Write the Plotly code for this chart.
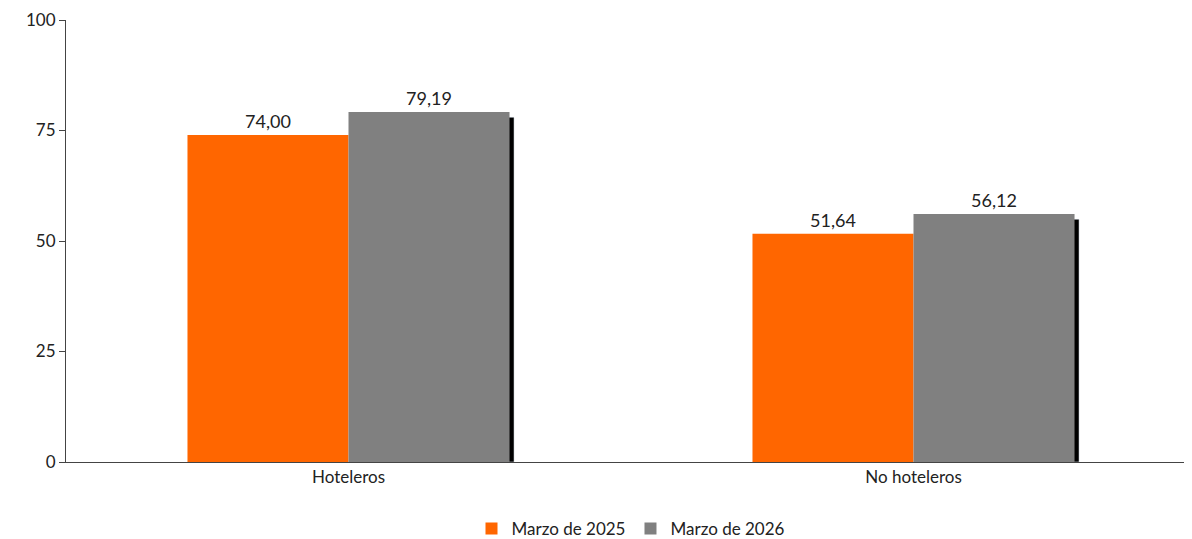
import plotly.graph_objects as go

categories = ["Hoteleros", "No hoteleros"]
s2025 = [74.00, 51.64]
s2026 = [79.19, 56.12]
labels2025 = ["74,00", "51,64"]
labels2026 = ["79,19", "56,12"]

w = 0.285
fig = go.Figure()
fig.add_bar(x=categories, y=[v - 1.2 for v in s2026], width=w, offset=0.008,
            marker_color="black", showlegend=False, hoverinfo="skip")
fig.add_bar(x=categories, y=s2025, width=w, offset=-w, name="Marzo de 2025",
            marker_color="#FF6600", marker_line_width=0,
            text=labels2025, textposition="outside", cliponaxis=False,
            textfont=dict(size=18, color="#222"))
fig.add_bar(x=categories, y=s2026, width=w, offset=0, name="Marzo de 2026",
            marker_color="#808080", marker_line_width=0,
            text=labels2026, textposition="outside", cliponaxis=False,
            textfont=dict(size=18, color="#222"))

fig.update_layout(
    barmode="overlay", width=1192, height=539,
    plot_bgcolor="white", paper_bgcolor="white",
    font=dict(family="Lato, DejaVu Sans", size=17, color="#222"),
    margin=dict(l=58, r=4, t=12, b=85),
    legend=dict(orientation="h", x=0.5, xanchor="center", yref="container",
                y=0.0, yanchor="bottom", font=dict(size=17), itemwidth=30,
                tracegroupgap=0),
    xaxis=dict(showline=True, linecolor="#444", ticks="", showgrid=False,
               automargin=False),
    yaxis=dict(range=[0, 100], tickvals=[0, 25, 50, 75, 100], showline=True,
               linecolor="#444", ticks="outside", ticklen=6, tickcolor="#444",
               showgrid=False, zeroline=False, automargin=False),
)
fig.write_html("out.html")
